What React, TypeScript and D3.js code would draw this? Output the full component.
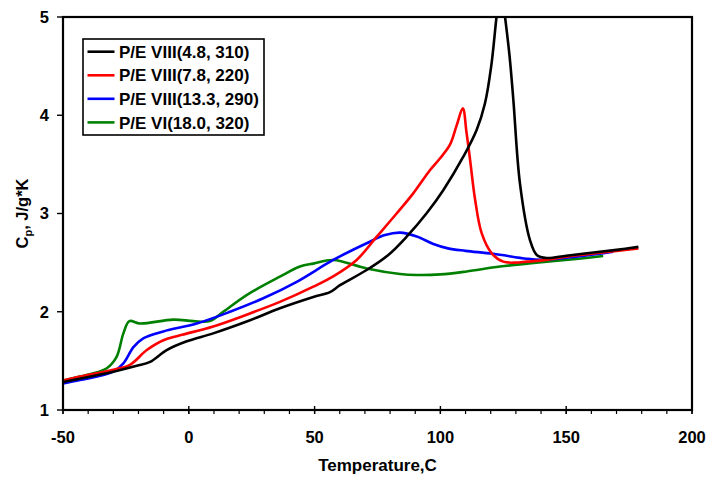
import React from "react";
import * as d3 from "d3";

const seriesNames = ["P/E VIII(4.8, 310)", "P/E VIII(7.8, 220)", "P/E VIII(13.3, 290)", "P/E VI(18.0, 320)"];
const seriesColors = ["#000000", "#ff0000", "#0000ff", "#008000"];

const blackT = [-50, -43, -30, -20.7, -15.4, -8.8, -0.8, 9.7, 23, 36.2, 49.5, 56.1, 60.1, 70.7, 79.3, 86.6, 94.6, 101.2, 109.1, 114.4, 117.7, 120.2, 122.3, 124, 125.7, 127.5, 129, 131.6, 135.6, 138.3, 142.2, 150, 160, 170, 178.7];
const blackCp = [1.285, 1.32, 1.39, 1.45, 1.49, 1.61, 1.7, 1.78, 1.9, 2.035, 2.15, 2.2, 2.27, 2.425, 2.578, 2.764, 3.005, 3.239, 3.578, 3.85, 4.12, 4.5, 5.0, 5.35, 5.0, 4.6, 4.155, 3.31, 2.73, 2.578, 2.547, 2.57, 2.6, 2.63, 2.66];

const redT = [-50, -43.2, -30, -23.4, -16.7, -10.1, -3.5, 9.7, 23, 36.2, 49.5, 57.4, 66.7, 74.7, 82.6, 89.2, 95.9, 99.8, 103.8, 106.5, 108.9, 110.4, 111.8, 113.8, 116.4, 120.4, 125, 130, 134.3, 139.6, 150, 160, 170, 178.7];
const redCp = [1.3, 1.34, 1.41, 1.46, 1.61, 1.71, 1.76, 1.85, 1.97, 2.1, 2.255, 2.36, 2.527, 2.764, 3.0, 3.205, 3.443, 3.56, 3.7, 3.9, 4.07, 3.82, 3.545, 3.14, 2.8, 2.595, 2.51, 2.5, 2.51, 2.52, 2.56, 2.59, 2.62, 2.645];

const blueT = [-50, -43.2, -30, -26, -22, -18.1, -10.1, 3.1, 16.4, 29.6, 42.9, 57.4, 70.7, 78, 84, 90.6, 97.2, 103, 110, 121, 134.3, 140, 150, 160, 168.7];
const blueCp = [1.27, 1.305, 1.39, 1.475, 1.64, 1.73, 1.8, 1.88, 2.0, 2.137, 2.305, 2.527, 2.697, 2.78, 2.805, 2.765, 2.69, 2.645, 2.62, 2.59, 2.54, 2.53, 2.55, 2.58, 2.61];

const greenT = [-50, -43.2, -32.6, -28.7, -26, -23.6, -19.4, -6.2, 1.8, 8.4, 13.7, 23, 36.2, 44.2, 49.5, 57.4, 70.7, 84, 90.6, 100, 110.4, 123.7, 142.2, 155, 164.7];
const greenCp = [1.3, 1.34, 1.425, 1.54, 1.78, 1.905, 1.88, 1.92, 1.905, 1.905, 2.0, 2.17, 2.357, 2.46, 2.49, 2.527, 2.44, 2.384, 2.374, 2.38, 2.41, 2.46, 2.51, 2.54, 2.567];

const xTicks = [-50, 0, 50, 100, 150, 200];
const xMinorTicks = d3.range(-50, 201, 10);
const yTicks = [1, 2, 3, 4, 5];

const seriesT = [blackT, redT, blueT, greenT];
const seriesCp = [blackCp, redCp, blueCp, greenCp];

const W = 709;
const H = 477;
const left = 63;
const right = 692;
const top = 17;
const bottom = 410;
const FONT = "'Liberation Sans', Arial, Helvetica, sans-serif";

export default function App() {
  const x = d3.scaleLinear().domain([-50, 200]).range([left, right]);
  const y = d3.scaleLinear().domain([1, 5]).range([bottom, top]);
  const line = d3
    .line<[number, number]>()
    .x((d) => x(d[0]))
    .y((d) => y(d[1]))
    .curve(d3.curveCatmullRom.alpha(0.5));

  const paths = seriesT.map((ts, i) => line(ts.map((t, j) => [t, seriesCp[i][j]] as [number, number])) || "");

  const legX = 83;
  const legY = 39;
  const legW = 181;
  const legH = 96;
  const rowY = [51.7, 75.3, 98.8, 122.4];

  return (
    <svg width={W} height={H} style={{ position: "absolute", left: 0, top: 0, background: "#fff" }} fontFamily={FONT}>
      <rect x={0} y={0} width={W} height={H} fill="#fff" />
      <defs>
        <clipPath id="plotclip">
          <rect x={left} y={top} width={right - left} height={bottom - top} />
        </clipPath>
      </defs>
      <g clipPath="url(#plotclip)">
        {[3, 2, 1, 0].map((i) => (
          <path key={i} d={paths[i]} fill="none" stroke={seriesColors[i]} strokeWidth={2.6} strokeLinejoin="round" />
        ))}
      </g>
      <rect x={left} y={top} width={right - left} height={bottom - top} fill="none" stroke="#000" strokeWidth={2.2} />
      {xMinorTicks.map((t) => (
        <line key={"mx" + t} x1={x(t)} x2={x(t)} y1={bottom} y2={bottom + 4} stroke="#000" strokeWidth={1.2} />
      ))}
      {xTicks.map((t) => (
        <line key={"x" + t} x1={x(t)} x2={x(t)} y1={bottom - 4} y2={bottom + 4} stroke="#000" strokeWidth={1.4} />
      ))}
      {xTicks.map((t) => (
        <text key={"xl" + t} x={x(t)} y={443} textAnchor="middle" fontSize={16.5} fontWeight="bold" fill="#000">
          {t}
        </text>
      ))}
      {yTicks.map((v) => (
        <line key={"y" + v} x1={left - 6} x2={left} y1={y(v)} y2={y(v)} stroke="#000" strokeWidth={1.4} />
      ))}
      {yTicks.map((v) => (
        <text key={"yl" + v} x={49} y={y(v)} dy="0.36em" textAnchor="end" fontSize={16.5} fontWeight="bold" fill="#000">
          {v}
        </text>
      ))}
      <text x={(left + right) / 2} y={471} textAnchor="middle" fontSize={17} fontWeight="bold" fill="#000">
        Temperature,C
      </text>
      <text transform={`translate(28, ${(top + bottom) / 2}) rotate(-90)`} textAnchor="middle" fontSize={16.5} fontWeight="bold" fill="#000">
        C<tspan fontSize={11} dy={4}>p</tspan>
        <tspan dy={-4}>, J/g*K</tspan>
      </text>
      <rect x={legX} y={legY} width={legW} height={legH} fill="#fff" stroke="#000" strokeWidth={1.6} />
      {seriesNames.map((name, i) => (
        <g key={name}>
          <line x1={87.5} x2={114.5} y1={rowY[i]} y2={rowY[i]} stroke={seriesColors[i]} strokeWidth={2.6} />
          <text x={119} y={rowY[i]} dy="0.36em" fontSize={17} fontWeight="bold" fill="#000">
            {name}
          </text>
        </g>
      ))}
    </svg>
  );
}
